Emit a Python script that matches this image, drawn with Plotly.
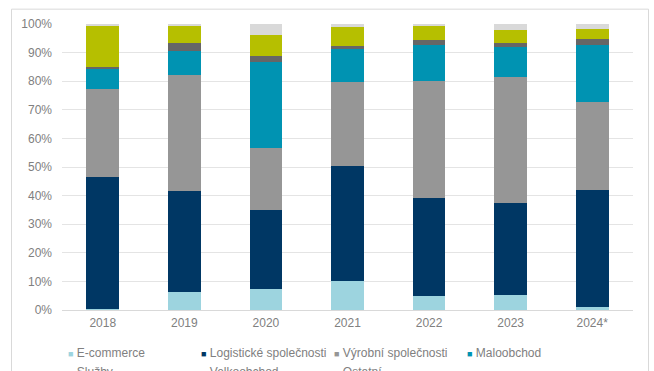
import plotly.graph_objects as go

years = ["2018", "2019", "2020", "2021", "2022", "2023", "2024*"]
ecommerce = [0.5, 6.2, 7.4, 10.1, 4.8, 5.2, 0.9]
logisticke = [46.1, 35.4, 27.6, 40.1, 34.2, 32.1, 41.0]
vyrobni = [30.7, 40.6, 21.8, 29.7, 41.1, 44.2, 31.0]
maloobchod = [7.3, 8.4, 29.9, 11.2, 12.4, 10.3, 19.6]
sluzby = [0.3, 2.8, 2.2, 1.3, 2.0, 1.4, 2.1]
velkoobchod = [14.3, 5.8, 7.1, 6.5, 4.7, 4.6, 3.7]
ostatni = [0.8, 0.8, 4.0, 1.1, 0.8, 2.2, 1.7]

series = [
    ("E-commerce", ecommerce, "#9dd4df"),
    ("Logistické společnosti", logisticke, "#003764"),
    ("Výrobní společnosti", vyrobni, "#969696"),
    ("Maloobchod", maloobchod, "#0093b2"),
    ("Služby", sluzby, "#666666"),
    ("Velkoobchod", velkoobchod, "#b6bf00"),
    ("Ostatní", ostatni, "#d9d9d9"),
]

fig = go.Figure()
for name, vals, col in series:
    fig.add_trace(go.Bar(
        x=years, y=[v / 100 for v in vals], name=name,
        marker=dict(color=col, line=dict(width=0)),
        showlegend=False,
    ))
# legend entries: colored square glyph placed right before the label
for name, vals, col in series:
    fig.add_trace(go.Scatter(
        x=[years[0]], y=[None], mode="markers",
        name=f"<span style='font-size:9px;color:{col}'>■</span> {name}",
        marker=dict(size=1, color="rgba(0,0,0,0)"),
        showlegend=True, hoverinfo="skip",
    ))

L, R, T, B = 62, 21, 24, 61
fig.update_layout(
    width=654, height=371,
    margin=dict(l=L, r=R, t=T, b=B, autoexpand=False),
    barmode="stack", bargap=0.6,
    plot_bgcolor="white", paper_bgcolor="white",
    font=dict(family="Liberation Sans, Arial, sans-serif", size=12, color="#808080"),
    legend=dict(
        orientation="h", x=-0.0595, xanchor="left", y=-0.098, yanchor="top",
        entrywidth=88, entrywidthmode="pixels", traceorder="normal",
        font=dict(size=12, color="#808080"), tracegroupgap=0,
        itemclick=False, itemdoubleclick=False,
    ),
    xaxis=dict(
        type="category", showgrid=False, ticks="", showline=False,
        tickfont=dict(size=12, color="#808080"), ticklabelstandoff=4,
    ),
    yaxis=dict(
        range=[0, 1.0001], dtick=0.1, tickformat=".0%",
        showgrid=True, gridcolor="#e4e4e4", gridwidth=1,
        zeroline=True, zerolinecolor="#d9d9d9", zerolinewidth=1,
        showline=False, ticks="", ticklabelstandoff=9,
        tickfont=dict(size=12, color="#808080"),
    ),
    shapes=[dict(
        type="rect", xref="paper", yref="paper",
        x0=(11.5 - L) / 571, x1=(648.5 - L) / 571,
        y0=-0.3, y1=(309.7 - 9.5) / 285.4,
        line=dict(color="#d9d9d9", width=1), fillcolor="rgba(0,0,0,0)",
        layer="below",
    )],
)

fig.write_html(
    "out.html",
    config={"displayModeBar": False},
    post_script="document.body.style.margin='0';document.body.style.overflow='hidden';",
)
